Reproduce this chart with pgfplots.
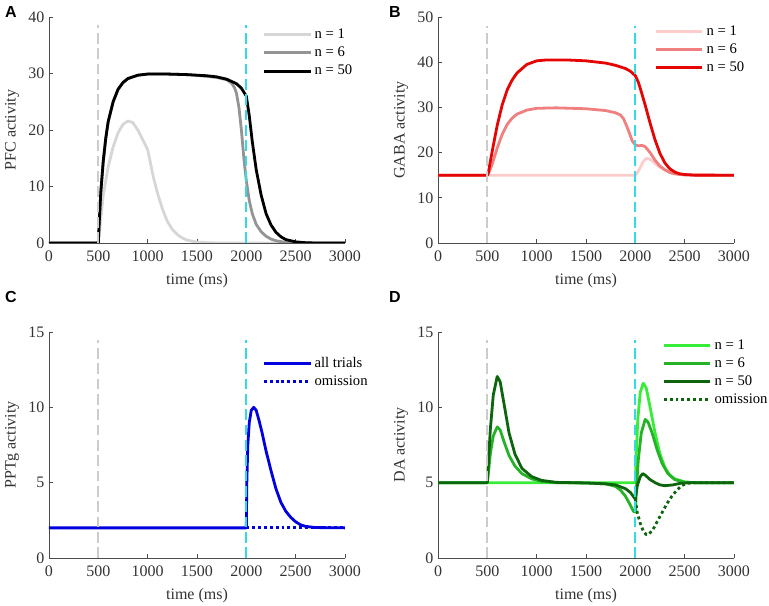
\documentclass[border=0pt]{standalone}
\usepackage{fontspec}
\setmainfont{Liberation Serif}
\setsansfont{Liberation Sans}
\usepackage{pgfplots}
\pgfplotsset{compat=1.18}

\definecolor{axcol}{gray}{0.3}
\definecolor{onsetgray}{gray}{0.80}
\definecolor{rewcyan}{rgb}{0.20,0.86,0.90}
\definecolor{gA}{gray}{0.84}
\definecolor{gB}{gray}{0.58}
\definecolor{rA}{rgb}{1.0,0.80,0.80}
\definecolor{rB}{rgb}{0.94,0.50,0.50}
\definecolor{rC}{rgb}{0.90,0.02,0.02}
\definecolor{bluecol}{rgb}{0.0,0.0,0.88}
\definecolor{dA}{rgb}{0.22,0.93,0.22}
\definecolor{dB}{rgb}{0.15,0.70,0.15}
\definecolor{dC}{rgb}{0.05,0.40,0.05}

\pgfplotsset{
  panel/.style={
    scale only axis, width=222pt, height=169.5pt,
    axis lines*=left,
    axis line style={axcol, line width=0.5pt},
    tick style={axcol, line width=0.5pt},
    tick align=inside, major tick length=3pt,
    xmin=0, xmax=3000, xtick={0,500,...,3000},
    scaled ticks=false,
    /pgf/number format/assume math mode=true,
    /pgf/number format/1000 sep={},
    ticklabel style={font=\fontsize{12}{13}\selectfont, color=black!80},
    xticklabel style={yshift=-2pt},
    label style={font=\fontsize{12}{13}\selectfont, color=black!80},
    xlabel={time (ms)},
    xlabel style={yshift=-2pt},
    legend cell align=left,
    legend style={draw=none, fill=none, font=\fontsize{11}{12}\selectfont,
      row sep=0.8pt, inner sep=0pt},
    legend image code/.code={\draw[line width=2.2pt, ##1] (0pt,0pt) -- (35pt,0pt);},
  },
  dat/.style={line width=2.1pt, line join=round},
  vline/.style={line width=1.5pt, dash pattern=on 8pt off 3.5pt, forget plot},
}

\begin{document}
\begin{tikzpicture}
\path[use as bounding box] (0,0) rectangle (576.75pt,454.5pt);

% A: PFC
\begin{axis}[panel, at={(36.75pt,272.25pt)}, anchor=south west,
  ymin=0, ymax=40, ytick={0,10,...,40}, ylabel={PFC activity},
  legend style={at={(0.72,0.96)}, anchor=north west}]
\addplot[dat, gA] coordinates {(0,0) (500,0) (520,3.5) (550,8.5) (600,13.5) (650,17) (700,19.5) (750,21) (800,21.6) (850,21.3) (900,20) (950,18.3) (1000,16.5) (1030,14) (1060,11.5) (1100,8.8) (1150,6) (1200,3.8) (1250,2.4) (1300,1.5) (1350,0.9) (1400,0.5) (1500,0.15) (1600,0.05) (1700,0) (3000,0)};
\addlegendentry{n = 1}
\addplot[dat, gB] coordinates {(0,0) (500,0) (510,4) (525,9) (550,14.5) (575,18.5) (600,21.5) (650,25) (700,27.2) (750,28.4) (800,29.1) (900,29.7) (1000,29.9) (1200,29.9) (1400,29.8) (1600,29.5) (1700,29.3) (1800,28.9) (1850,28.3) (1880,27.5) (1900,26.5) (1925,24) (1950,20) (1975,15) (2000,11) (2030,7.5) (2060,5.2) (2100,3.3) (2150,2) (2200,1.2) (2250,0.7) (2300,0.4) (2400,0.1) (2500,0) (3000,0)};
\addlegendentry{n = 6}
\addplot[dat, black] coordinates {(0,0) (500,0) (510,4) (525,9) (550,14.5) (575,18.5) (600,21.5) (650,25) (700,27.2) (750,28.4) (800,29.1) (900,29.7) (1000,29.9) (1200,29.9) (1400,29.8) (1600,29.6) (1700,29.4) (1800,29) (1900,28.2) (1950,27.4) (2000,26) (2030,22.5) (2060,18) (2100,13) (2150,8.5) (2200,5.2) (2250,3.2) (2300,1.9) (2350,1.1) (2400,0.6) (2500,0.2) (2600,0.05) (2700,0) (3000,0)};
\addlegendentry{n = 50}
\addplot[vline, onsetgray] coordinates {(500,0) (500,38.5)};
\addplot[vline, rewcyan] coordinates {(2000,0) (2000,38.5)};
\end{axis}

% B: GABA
\begin{axis}[panel, at={(328.5pt,272.25pt)}, anchor=south west,
  ymin=0, ymax=50, ytick={0,10,...,50}, ylabel={GABA activity},
  legend style={at={(0.73,0.975)}, anchor=north west}]
\addplot[dat, rA] coordinates {(0,15) (2000,15) (2020,15.5) (2050,16.7) (2080,18) (2110,18.7) (2140,18.6) (2180,18) (2220,17.2) (2260,16.6) (2300,16.1) (2350,15.6) (2400,15.3) (2500,15.1) (2600,15) (3000,15)};
\addlegendentry{n = 1}
\addplot[dat, rB] coordinates {(0,15) (500,15) (520,15.8) (550,17.5) (600,21) (650,24) (700,26.2) (750,27.6) (800,28.5) (900,29.4) (1000,29.8) (1200,29.9) (1500,29.7) (1700,29.3) (1800,28.8) (1850,28.3) (1880,27.5) (1910,26) (1940,24.3) (1970,22.5) (2000,21.7) (2030,21.5) (2070,21.6) (2100,21.3) (2150,20) (2200,18.3) (2250,17) (2300,16.2) (2350,15.6) (2400,15.3) (2500,15.05) (2600,15) (3000,15)};
\addlegendentry{n = 6}
\addplot[dat, rC] coordinates {(0,15) (500,15) (510,15.5) (530,18) (560,21.5) (600,26) (650,30.5) (700,33.8) (750,36) (800,37.6) (900,39.5) (1000,40.3) (1100,40.5) (1300,40.5) (1500,40.3) (1700,39.8) (1800,39.3) (1900,38.6) (1950,38) (2000,37) (2030,35.6) (2060,33.5) (2100,30.5) (2150,26.5) (2200,22.8) (2250,19.8) (2300,17.7) (2350,16.4) (2400,15.7) (2450,15.3) (2500,15.15) (2600,15.02) (3000,15)};
\addlegendentry{n = 50}
\addplot[vline, onsetgray] coordinates {(500,0) (500,48)};
\addplot[vline, rewcyan] coordinates {(2000,0) (2000,48)};
\end{axis}

% C: PPTg
\begin{axis}[panel, at={(36.75pt,36pt)}, anchor=south west,
  ymin=0, ymax=15, ytick={0,5,10,15}, ylabel={PPTg activity},
  legend style={at={(0.72,0.9)}, anchor=north west}]
\addplot[dat, bluecol] coordinates {(0,2) (2000,2) (2005,5) (2015,7.5) (2030,9) (2050,9.8) (2075,10) (2100,9.8) (2130,9.1) (2160,8.3) (2200,7.1) (2250,5.8) (2300,4.6) (2350,3.7) (2400,3.1) (2450,2.7) (2500,2.4) (2550,2.2) (2600,2.1) (2700,2.02) (3000,2)};
\addlegendentry{all trials}
\addplot[dat, bluecol, dash pattern=on 2.2pt off 2.2pt, line cap=butt] coordinates {(2000,2) (3000,2)};
\addlegendentry{omission}
\addplot[vline, onsetgray] coordinates {(500,0) (500,14.45)};
\addplot[vline, rewcyan] coordinates {(2000,0) (2000,14.45)};
\end{axis}

% D: DA
\begin{axis}[panel, at={(328.5pt,36pt)}, anchor=south west,
  ymin=0, ymax=15, ytick={0,5,10,15}, ylabel={DA activity},
  legend style={at={(0.757,0.98)}, anchor=north west}]
\addplot[dat, dA] coordinates {(0,5) (2000,5) (2010,7) (2025,9.2) (2050,11) (2080,11.6) (2110,11.3) (2150,10) (2200,8.3) (2250,6.9) (2300,6) (2350,5.5) (2400,5.25) (2500,5.05) (2600,5) (3000,5)};
\addlegendentry{n = 1}
\addplot[dat, dB] coordinates {(0,5) (500,5) (510,5.6) (530,6.9) (560,8.1) (600,8.7) (630,8.5) (670,7.7) (720,6.8) (780,6.1) (850,5.6) (950,5.25) (1050,5.08) (1200,5) (1500,4.98) (1700,4.92) (1800,4.75) (1850,4.5) (1900,4.1) (1950,3.5) (1980,3.1) (2000,3.05) (2010,4.5) (2030,6.5) (2060,8.3) (2100,9.2) (2130,9.0) (2170,8.3) (2220,7.2) (2270,6.3) (2330,5.6) (2400,5.2) (2500,5.03) (2600,5) (3000,5)};
\addlegendentry{n = 6}
\addplot[dat, dC] coordinates {(0,5) (500,5) (510,6.2) (530,8.5) (560,10.8) (600,12.05) (630,11.7) (670,10.2) (720,8.3) (780,6.9) (850,5.95) (950,5.4) (1050,5.15) (1200,5.02) (1500,4.98) (1700,4.92) (1800,4.85) (1900,4.6) (1950,4.35) (1990,4.0) (2000,3.9) (2020,4.8) (2050,5.4) (2075,5.6) (2100,5.5) (2150,5.2) (2200,5.0) (2250,4.85) (2300,4.8) (2380,4.85) (2450,4.95) (2550,5) (3000,5)};
\addlegendentry{n = 50}
\addplot[dat, dC, dash pattern=on 2.2pt off 2.2pt, line cap=butt] coordinates {(2000,3.9) (2020,3.0) (2050,2.3) (2080,1.8) (2110,1.55) (2140,1.6) (2180,1.9) (2220,2.4) (2270,3.0) (2320,3.6) (2370,4.1) (2420,4.5) (2470,4.8) (2520,4.95) (2600,5) (3000,5)};
\addlegendentry{omission}
\addplot[vline, onsetgray] coordinates {(500,0) (500,14.45)};
\addplot[vline, rewcyan] coordinates {(2000,0) (2000,14.45)};
\end{axis}

% panel letters
\node[font=\sffamily\bfseries\fontsize{12}{13}\selectfont] at (8.25pt,445.5pt) {A};
\node[font=\sffamily\bfseries\fontsize{12}{13}\selectfont] at (296.25pt,445.5pt) {B};
\node[font=\sffamily\bfseries\fontsize{12}{13}\selectfont] at (8.25pt,232pt) {C};
\node[font=\sffamily\bfseries\fontsize{12}{13}\selectfont] at (296.25pt,232pt) {D};
\end{tikzpicture}
\end{document}
